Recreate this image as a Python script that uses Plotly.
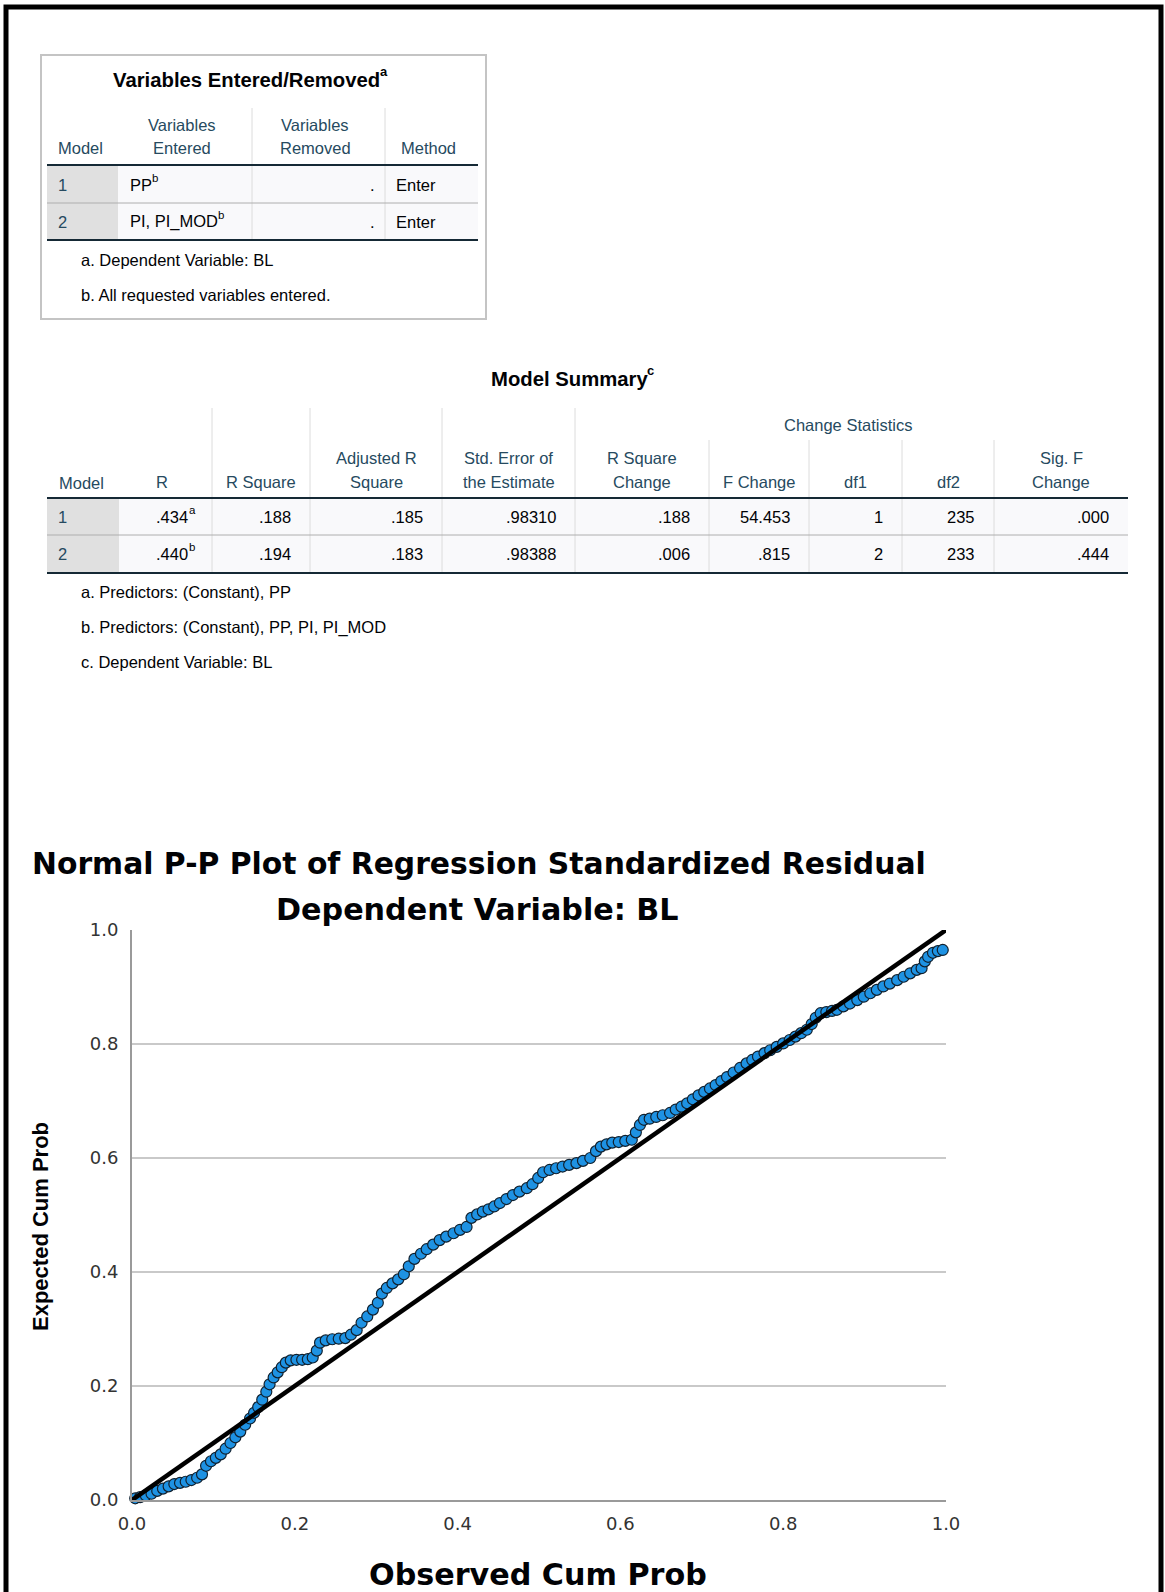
import plotly.graph_objects as go

W, H = 1165, 1592

# ---------------- data: Variables Entered/Removed ----------------
ve_title = "Variables Entered/Removed"
ve_title_sup = "a"
ve_headers = [["Model"], ["Variables", "Entered"], ["Variables", "Removed"], ["Method"]]
ve_models = ["1", "2"]
ve_entered = ["PP", "PI, PI_MOD"]
ve_entered_sup = ["b", "b"]
ve_removed = [".", "."]
ve_method = ["Enter", "Enter"]
ve_notes = ["a. Dependent Variable: BL", "b. All requested variables entered."]

# ---------------- data: Model Summary ----------------
ms_title = "Model Summary"
ms_title_sup = "c"
ms_group_header = "Change Statistics"
ms_headers = [["R"], ["R Square"], ["Adjusted R", "Square"], ["Std. Error of", "the Estimate"],
              ["R Square", "Change"], ["F Change"], ["df1"], ["df2"], ["Sig. F", "Change"]]
ms_models = ["1", "2"]
ms_r = [".434", ".440"]
ms_r_sup = ["a", "b"]
ms_r_square = [".188", ".194"]
ms_adj_r_square = [".185", ".183"]
ms_std_err = [".98310", ".98388"]
ms_r_sq_change = [".188", ".006"]
ms_f_change = ["54.453", ".815"]
ms_df1 = ["1", "2"]
ms_df2 = ["235", "233"]
ms_sig_f = [".000", ".444"]
ms_notes = ["a. Predictors: (Constant), PP",
            "b. Predictors: (Constant), PP, PI, PI_MOD",
            "c. Dependent Variable: BL"]

# ---------------- data: P-P plot ----------------
observed_cum_prob = [
    0.004, 0.010, 0.017, 0.024, 0.031, 0.038, 0.045, 0.052, 0.059, 0.066,
    0.073, 0.080, 0.086, 0.091, 0.097, 0.103, 0.109, 0.115, 0.121, 0.127,
    0.133, 0.139, 0.145, 0.150, 0.155, 0.160, 0.165, 0.169, 0.174, 0.179,
    0.184, 0.189, 0.195, 0.202, 0.209, 0.216, 0.222, 0.227, 0.231, 0.238,
    0.246, 0.254, 0.262, 0.269, 0.276, 0.282, 0.289, 0.296, 0.302, 0.307,
    0.313, 0.320, 0.327, 0.334, 0.340, 0.347, 0.355, 0.362, 0.370, 0.378,
    0.386, 0.395, 0.403, 0.411, 0.417, 0.424, 0.431, 0.438, 0.445, 0.452,
    0.460, 0.468, 0.476, 0.485, 0.492, 0.499, 0.505, 0.513, 0.521, 0.529,
    0.537, 0.546, 0.554, 0.563, 0.570, 0.576, 0.583, 0.590, 0.598, 0.606,
    0.614, 0.619, 0.624, 0.629, 0.636, 0.644, 0.652, 0.661, 0.668, 0.675,
    0.682, 0.689, 0.696, 0.703, 0.710, 0.717, 0.724, 0.731, 0.739, 0.747,
    0.755, 0.762, 0.769, 0.777, 0.784, 0.792, 0.800, 0.808, 0.815, 0.822,
    0.829, 0.835, 0.840, 0.846, 0.853, 0.860, 0.866, 0.874, 0.882, 0.891,
    0.899, 0.907, 0.915, 0.923, 0.931, 0.940, 0.948, 0.956, 0.964, 0.970,
    0.974, 0.978, 0.984, 0.990, 0.996,
]
expected_cum_prob = [
    0.003, 0.005, 0.008, 0.011, 0.016, 0.020, 0.024, 0.028, 0.030, 0.032,
    0.035, 0.039, 0.045, 0.060, 0.068, 0.074, 0.080, 0.090, 0.100, 0.110,
    0.120, 0.132, 0.143, 0.153, 0.163, 0.176, 0.190, 0.203, 0.215, 0.224,
    0.233, 0.241, 0.245, 0.246, 0.246, 0.247, 0.250, 0.262, 0.276, 0.280,
    0.282, 0.283, 0.284, 0.290, 0.298, 0.311, 0.322, 0.334, 0.346, 0.362,
    0.372, 0.380, 0.387, 0.396, 0.410, 0.423, 0.432, 0.440, 0.448, 0.456,
    0.462, 0.468, 0.474, 0.479, 0.495, 0.501, 0.506, 0.510, 0.515, 0.521,
    0.528, 0.535, 0.541, 0.547, 0.554, 0.565, 0.575, 0.579, 0.582, 0.585,
    0.588, 0.591, 0.595, 0.600, 0.612, 0.620, 0.624, 0.627, 0.628, 0.630,
    0.632, 0.645, 0.658, 0.667, 0.669, 0.672, 0.675, 0.679, 0.685, 0.690,
    0.696, 0.703, 0.710, 0.716, 0.722, 0.728, 0.735, 0.742, 0.750, 0.758,
    0.766, 0.772, 0.778, 0.784, 0.789, 0.795, 0.801, 0.807, 0.813, 0.819,
    0.825, 0.835, 0.846, 0.854, 0.856, 0.858, 0.860, 0.866, 0.871, 0.877,
    0.883, 0.889, 0.895, 0.901, 0.906, 0.912, 0.918, 0.924, 0.930, 0.933,
    0.945, 0.953, 0.960, 0.963, 0.965,
]
reference_x = [0.0, 1.0]
reference_y = [0.0, 1.0]
tick_vals = [0.0, 0.2, 0.4, 0.6, 0.8, 1.0]
tick_text = ["0.0", "0.2", "0.4", "0.6", "0.8", "1.0"]
plot_title = "Normal P-P Plot of Regression Standardized Residual"
plot_subtitle = "Dependent Variable: BL"
x_title = "Observed Cum Prob"
y_title = "Expected Cum Prob"

# ---------------- styling ----------------
SANS = "Liberation Sans, Arial, sans-serif"
WIDE = "DejaVu Sans, Verdana, sans-serif"
HEAD_C = "#264a60"
TEXT_C = "#010205"
DARK_LINE = "#152935"
GRAY_LINE = "#aeaeae"
SEP_LINE = "#dcdcdc"
MODEL_FILL = "#e0e0e0"
CELL_FILL = "#f9f9fb"
BODY_SIZE = 16.5
TITLE_SIZE = 20.3
SUP_SIZE = 11.5

# approximate Arial advance widths (em) for placing superscripts
ARIAL = {' ': .278, ',': .278, '.': .278, '_': .556, '/': .278,
         'P': .667, 'I': .278, 'M': .833, 'O': .778, 'D': .722,
         'V': .667, 'E': .667, 'R': .722, 'S': .667}
ARIAL_BOLD = {' ': .278, '/': .278, 'V': .667, 'E': .667, 'R': .722, 'M': .833, 'S': .667,
              'a': .556, 'r': .389, 'i': .278, 'b': .611, 'l': .278, 'e': .556, 's': .556,
              'n': .611, 't': .333, 'd': .611, 'm': .889, 'o': .611, 'v': .556, 'u': .611,
              'y': .556}


def text_width(s, size, bold=False):
    table = ARIAL_BOLD if bold else ARIAL
    return sum(table.get(c, .556) for c in s) * size


def fx(x):
    return x / W


def fy(y):
    return 1 - y / H


shapes = []
annotations = []


def rect(x0, y0, x1, y1, fill=None, line=None, lw=0):
    shapes.append(dict(type="rect", xref="paper", yref="paper",
                       x0=fx(x0), x1=fx(x1), y0=fy(y0), y1=fy(y1),
                       fillcolor=fill if fill else "rgba(0,0,0,0)",
                       line=dict(color=line if line else "rgba(0,0,0,0)", width=lw),
                       layer="below"))


def hline(x0, x1, y, color, w):
    shapes.append(dict(type="line", xref="paper", yref="paper",
                       x0=fx(x0), x1=fx(x1), y0=fy(y), y1=fy(y),
                       line=dict(color=color, width=w), layer="below"))


def vline(x, y0, y1, color, w):
    shapes.append(dict(type="line", xref="paper", yref="paper",
                       x0=fx(x), x1=fx(x), y0=fy(y0), y1=fy(y1),
                       line=dict(color=color, width=w), layer="below"))


def txt(x, y, s, size=BODY_SIZE, color=TEXT_C, xa="left", ya="middle", family=SANS,
        bold=False, angle=0):
    if bold:
        s = "<b>" + s + "</b>"
    annotations.append(dict(xref="paper", yref="paper", x=fx(x), y=fy(y), text=s,
                            showarrow=False, xanchor=xa, yanchor=ya, textangle=angle,
                            font=dict(family=family, size=size, color=color)))


def sup(x, y, s, color=TEXT_C, size=SUP_SIZE, bold=False):
    # superscript letter: left edge at x, raised above the text centre y
    txt(x, y - 7, s, size=size, color=color, bold=bold)


# ---------------- outer black frame ----------------
rect(6, 7, 1161, 1610, line="black", lw=5)

# ---------------- Table 1: Variables Entered/Removed ----------------
rect(41, 55, 486, 319, fill="white", line="#c4c4c4", lw=2)
rect(47, 165, 118, 240, fill=MODEL_FILL)
rect(118, 165, 478, 240, fill=CELL_FILL)
for xs in (252, 385):
    vline(xs, 108, 240, SEP_LINE, 1)
hline(47, 478, 165, DARK_LINE, 2)
hline(47, 478, 203, GRAY_LINE, 1)
hline(47, 478, 240, DARK_LINE, 2)

t_w = text_width(ve_title, TITLE_SIZE, bold=True)
t_cx = 250 - 4
txt(t_cx, 80, ve_title, size=TITLE_SIZE, xa="center", bold=True)
sup(t_cx + t_w / 2 - 2, 79, ve_title_sup, size=13, bold=True)

ve_header_x = [(56, "left"), (182, "center"), (315, "center"), (428, "center")]
for lines, (hx, ha) in zip(ve_headers, ve_header_x):
    n = len(lines)
    for j, ln in enumerate(lines):
        yy = 148 - (n - 1 - j) * 23
        txt(hx, yy, ln, color=HEAD_C, xa=ha)

ve_row_y = [185, 222]
for i in range(len(ve_models)):
    yy = ve_row_y[i]
    txt(56, yy, ve_models[i], color=HEAD_C)
    txt(128, yy, ve_entered[i])
    sup(128 + text_width(ve_entered[i], BODY_SIZE), yy, ve_entered_sup[i])
    txt(377, yy, ve_removed[i], xa="right")
    txt(394, yy, ve_method[i])
for i, note in enumerate(ve_notes):
    txt(79, 260 + 35 * i, note)

# ---------------- Table 2: Model Summary ----------------
col_edges = [47, 119, 212, 310, 442, 575, 709, 809, 902, 994, 1128]
rect(47, 498, 119, 573, fill=MODEL_FILL)
rect(119, 498, 1128, 573, fill=CELL_FILL)
for xs in col_edges[2:6]:
    vline(xs, 408, 573, SEP_LINE, 1)
for xs in col_edges[6:10]:
    vline(xs, 440, 573, SEP_LINE, 1)
hline(47, 1128, 498, DARK_LINE, 2)
hline(47, 1128, 535, GRAY_LINE, 1)
hline(47, 1128, 573, DARK_LINE, 2)

m_w = text_width(ms_title, TITLE_SIZE, bold=True)
m_cx = 573 - 4
txt(m_cx, 379, ms_title, size=TITLE_SIZE, xa="center", bold=True)
sup(m_cx + m_w / 2 - 2, 378, ms_title_sup, size=13, bold=True)
txt(848, 425, ms_group_header, color=HEAD_C, xa="center")
txt(57, 483, "Model", color=HEAD_C)
header_centers = [162] + [(col_edges[k] + col_edges[k + 1]) / 2 for k in range(2, 10)]
for lines, cx in zip(ms_headers, header_centers):
    n = len(lines)
    for j, ln in enumerate(lines):
        yy = 482 - (n - 1 - j) * 24
        txt(cx, yy, ln, color=HEAD_C, xa="center")

ms_row_y = [517, 554]
cols = [ms_r_square, ms_adj_r_square, ms_std_err, ms_r_sq_change, ms_f_change,
        ms_df1, ms_df2, ms_sig_f]
for i in range(len(ms_models)):
    yy = ms_row_y[i]
    txt(56, yy, ms_models[i], color=HEAD_C)
    r_right = col_edges[2] - 17
    txt(r_right - 5, yy, ms_r[i], xa="right")
    sup(r_right - 8, yy, ms_r_sup[i])
    for k, col in enumerate(cols):
        txt(col_edges[k + 3] - 17, yy, col[i], xa="right")
for i, note in enumerate(ms_notes):
    txt(79, 592 + 35 * i, note)

# ---------------- P-P plot ----------------
PX0, PX1 = 132, 946
PY0, PY1 = 1500, 930

fig = go.Figure()
fig.add_trace(go.Scatter(
    x=observed_cum_prob, y=expected_cum_prob, mode="markers", cliponaxis=False,
    marker=dict(size=11, color="#1e92e3", line=dict(color="#10202e", width=1.2)),
    hoverinfo="skip"))
fig.add_trace(go.Scatter(
    x=reference_x, y=reference_y, mode="lines", cliponaxis=False,
    line=dict(color="black", width=4.5), hoverinfo="skip"))

txt(30, 863, plot_title, size=29.8, family=WIDE, bold=True)
txt(477, 910, plot_subtitle, size=30.2, family=WIDE, xa="center", bold=True)
txt(538, 1574, x_title, size=30.2, family=WIDE, xa="center", bold=True)
txt(40, 1227, y_title, size=22, family=SANS, xa="center", bold=True, angle=-90)

axis_font = dict(family=WIDE, size=18, color="#333333")
fig.update_layout(
    width=W, height=H, autosize=False,
    margin=dict(l=0, r=0, t=0, b=0, pad=0, autoexpand=False),
    paper_bgcolor="white", plot_bgcolor="white", showlegend=False,
    xaxis=dict(domain=[fx(PX0), fx(PX1)], range=[0, 1], tickvals=tick_vals,
               ticktext=tick_text, showgrid=False, zeroline=False, showline=True,
               linecolor="#9a9a9a", linewidth=2, ticks="", tickfont=axis_font,
               ticklabelstandoff=6, fixedrange=True, automargin=False),
    yaxis=dict(domain=[fy(PY0), fy(PY1)], range=[0, 1], tickvals=tick_vals,
               ticktext=tick_text, showgrid=True, gridcolor="#c9c9c9", gridwidth=1.5,
               zeroline=False, showline=True, linecolor="#9a9a9a", linewidth=2,
               ticks="", tickfont=axis_font, ticklabelstandoff=8, fixedrange=True,
               automargin=False),
    shapes=shapes, annotations=annotations,
)

fig.write_html("out.html",
               post_script="document.body.style.margin='0';document.body.style.padding='0';")
